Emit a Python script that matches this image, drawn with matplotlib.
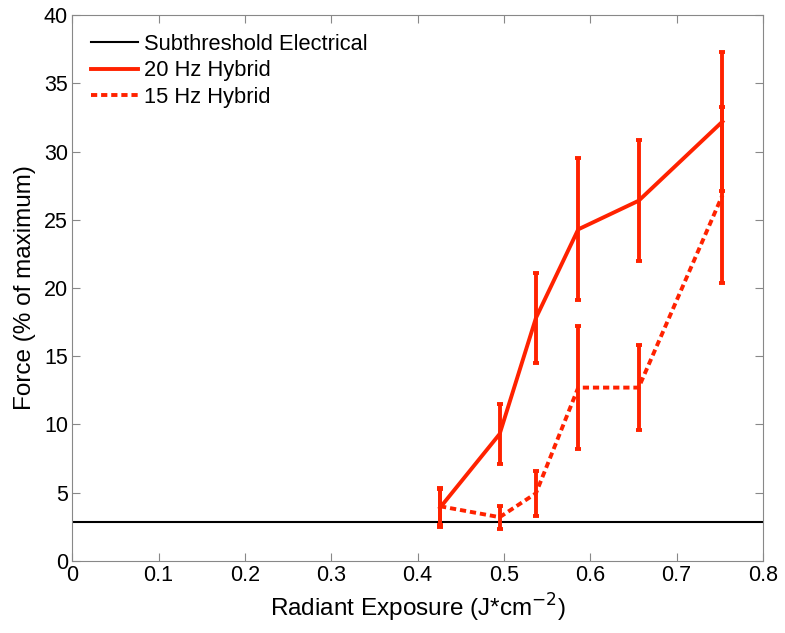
import numpy as np
import matplotlib.pyplot as plt
from matplotlib.lines import Line2D

plt.rcParams['font.family'] = ['Liberation Sans', 'DejaVu Sans']

# data
exposure = [0.426, 0.495, 0.537, 0.586, 0.656, 0.753]
force_20hz = [3.9, 9.3, 17.8, 24.3, 26.4, 32.2]
err_20hz = [1.4, 2.2, 3.3, 5.2, 4.45, 5.1]
force_15hz = [4.0, 3.2, 4.95, 12.7, 12.7, 26.8]
err_15hz = [1.35, 0.85, 1.65, 4.5, 3.1, 6.45]
subthreshold = 2.85

red = '#ff2200'
dash = (0, (1.6, 1.0))

fig = plt.figure(figsize=(7.85, 6.33), dpi=100)
ax = fig.add_axes([0.092, 0.114, 0.88, 0.862])

ax.axhline(subthreshold, color='black', lw=1.5)
ax.errorbar(exposure, force_20hz, yerr=err_20hz, color=red, lw=2.8,
            elinewidth=2.8, capsize=2.5, capthick=2.8)
ax.errorbar(exposure, force_15hz, yerr=err_15hz, color=red, lw=2.8,
            ls=dash, elinewidth=2.8, capsize=2.5, capthick=2.8)

ax.set_xlim(0, 0.8)
ax.set_ylim(0, 40)
ax.set_xticks(np.arange(0, 0.81, 0.1))
ax.set_xticklabels(['0', '0.1', '0.2', '0.3', '0.4', '0.5', '0.6', '0.7', '0.8'])
ax.set_yticks(range(0, 41, 5))
ax.tick_params(direction='in', top=True, right=True, labelsize=15.5,
               length=6, color='#888888', pad=3)
for s in ax.spines.values():
    s.set_color('#888888')

ax.set_xlabel('Radiant Exposure (J*cm$^{-2}$)', fontsize=17.5, labelpad=4)
ax.set_ylabel('Force (% of maximum)', fontsize=17.5, labelpad=6)

handles = [Line2D([], [], color='black', lw=1.5),
           Line2D([], [], color=red, lw=2.8),
           Line2D([], [], color=red, lw=2.8, ls=dash)]
labels = ['Subthreshold Electrical', '20 Hz Hybrid', '15 Hz Hybrid']
ax.legend(handles, labels, loc='upper left', frameon=False, fontsize=15.75,
          handlelength=2.15, borderaxespad=0.45, labelspacing=0.25,
          handletextpad=0.3)

fig.savefig('out.png', dpi=100)
